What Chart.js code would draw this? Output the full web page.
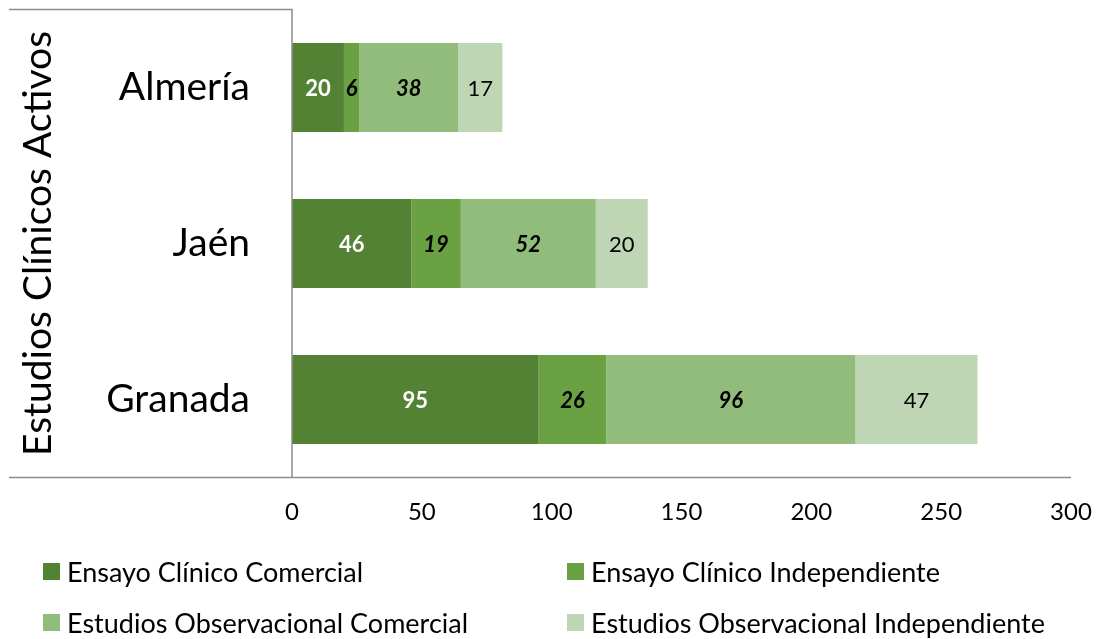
<!DOCTYPE html>
<html>
<head>
<meta charset="utf-8">
<script src="https://cdn.jsdelivr.net/npm/chart.js@4.4.1/dist/chart.umd.min.js"></script>
<style>
  html, body { margin: 0; padding: 0; background: #fff; }
  #wrap { position: relative; width: 1098px; height: 639px; }
  #legend { position: absolute; left: 0; top: 0; width: 1098px; height: 639px; pointer-events: none;
            font-family: Lato, "Open Sans", sans-serif; font-size: 27px; color: #000; }
  .lg { position: absolute; display: flex; align-items: center; white-space: nowrap; height: 30px; }
  .lg i { display: inline-block; width: 17px; height: 17px; margin-right: 7px; }
</style>
</head>
<body>
<div id="wrap">
  <canvas id="c" width="1098" height="639"></canvas>
  <div id="legend"></div>
</div>
<script>
const categories = ["Almería", "Jaén", "Granada"];
const seriesNames = [
  "Ensayo Clínico Comercial",
  "Ensayo Clínico Independiente",
  "Estudios Observacional Comercial",
  "Estudios Observacional Independiente"
];
const ensayoComercial = [20, 46, 95];
const ensayoIndependiente = [6, 19, 26];
const observacionalComercial = [38, 52, 96];
const observacionalIndependiente = [17, 20, 47];
const colors = ["#548235", "#6aa142", "#92bc7b", "#bed6b3"];
const xTicks = [0, 50, 100, 150, 200, 250, 300];
const axisTitle = "Estudios Clínicos Activos";

const FONT = "Lato, 'Open Sans', sans-serif";
const values = [ensayoComercial, ensayoIndependiente, observacionalComercial, observacionalIndependiente];

// label style per series: colour, weight, style
const labelStyle = [
  { color: "#fff", weight: "bold", style: "normal" },
  { color: "#000", weight: "bold", style: "italic" },
  { color: "#000", weight: "bold", style: "italic" },
  { color: "#000", weight: "normal", style: "normal" }
];

const segLabels = {
  id: "segLabels",
  afterDatasetsDraw(chart) {
    const ctx = chart.ctx;
    ctx.save();
    ctx.textAlign = "center";
    ctx.textBaseline = "middle";
    chart.data.datasets.forEach((ds, i) => {
      const meta = chart.getDatasetMeta(i);
      const st = labelStyle[i];
      ctx.fillStyle = st.color;
      ctx.font = `${st.style} ${st.weight} 22px ${FONT}`;
      meta.data.forEach((bar, j) => {
        const cx = (bar.x + bar.base) / 2;
        ctx.fillText(String(ds.data[j]), cx, bar.y + 1);
      });
    });
    ctx.restore();
  }
};

const frameLines = {
  id: "frameLines",
  afterDraw(chart) {
    const { ctx, chartArea } = chart;
    const x0 = chart.scales.x.getPixelForValue(0);
    ctx.save();
    ctx.strokeStyle = "#8c8c8c";
    ctx.lineWidth = 1.5;
    ctx.beginPath();
    ctx.moveTo(9, chartArea.top);
    ctx.lineTo(x0, chartArea.top);
    ctx.lineTo(x0, chartArea.bottom);
    ctx.moveTo(9, chartArea.bottom);
    ctx.lineTo(chartArea.right, chartArea.bottom);
    ctx.stroke();
    ctx.restore();
  }
};

function noScalePadding(s) {
  s.paddingTop = 0; s.paddingBottom = 0; s.paddingLeft = 0; s.paddingRight = 0;
}

new Chart(document.getElementById("c"), {
  type: "bar",
  data: {
    labels: categories,
    datasets: values.map((v, i) => ({
      label: seriesNames[i],
      data: v,
      backgroundColor: colors[i],
      borderWidth: 0,
      barPercentage: 0.57,
      categoryPercentage: 1.0
    }))
  },
  options: {
    indexAxis: "y",
    responsive: false,
    animation: false,
    layout: { padding: { left: 0, right: 27, top: 9.5, bottom: 71.5 } },
    plugins: { legend: { display: false }, tooltip: { enabled: false } },
    scales: {
      x: {
        stacked: true,
        min: 0, max: 300,
        afterBuildTicks: s => { s.ticks = xTicks.map(v => ({ value: v })); },
        afterFit: s => { s.height = 90; noScalePadding(s); },
        grid: { display: false, drawTicks: false },
        border: { display: false },
        ticks: { color: "#000", padding: 20, font: { family: FONT, size: 24 } }
      },
      y: {
        stacked: true,
        afterFit: s => { s.width = 292; noScalePadding(s); },
        grid: { display: false, drawTicks: false },
        border: { display: false },
        ticks: { color: "#000", padding: 42, font: { family: FONT, size: 39 } },
        title: {
          display: true, text: axisTitle, color: "#000",
          padding: { top: 15, bottom: 0 },
          font: { family: FONT, size: 39, weight: "normal" }
        }
      }
    }
  },
  plugins: [segLabels, frameLines]
});

// legend in two columns, built from the series arrays
const legendPos = [[43, 571], [567, 571], [43, 622], [567, 622]];
const lg = document.getElementById("legend");
seriesNames.forEach((name, i) => {
  const d = document.createElement("div");
  d.className = "lg";
  d.style.left = legendPos[i][0] + "px";
  d.style.top = (legendPos[i][1] - 15) + "px";
  d.innerHTML = `<i style="background:${colors[i]}"></i><span>${name}</span>`;
  lg.appendChild(d);
});
</script>
</body>
</html>
